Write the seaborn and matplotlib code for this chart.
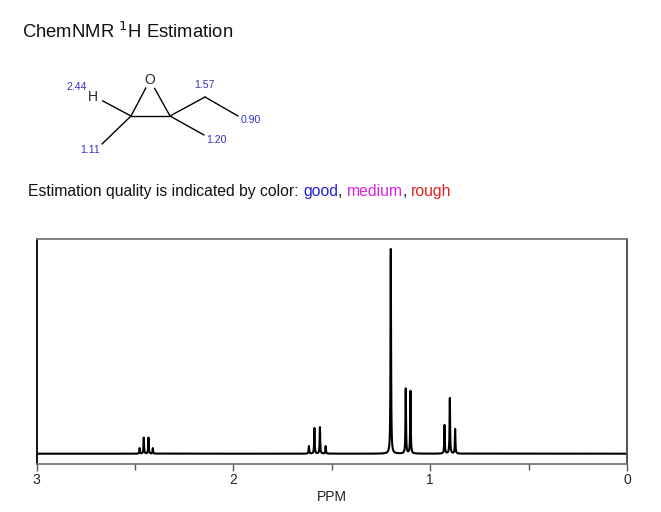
import numpy as np
import pandas as pd
import matplotlib
matplotlib.use("Agg")
import matplotlib.pyplot as plt
import seaborn as sns

sns.set_style("white")
plt.rcParams["font.family"] = ["Liberation Sans", "DejaVu Sans"]

# ---------------------------------------------------------
# DATA
# ---------------------------------------------------------
# estimated lines (ppm) and their drawn heights
peak_ppm = [2.476, 2.455, 2.431, 2.409,
            1.616, 1.588, 1.560, 1.531,
            1.200,
            1.124, 1.100,
            0.927, 0.900, 0.873]
peak_height = [5.5, 16.0, 16.0, 5.5,
               7.5, 25.5, 26.5, 7.5,
               204.5,
               65.0, 62.5,
               28.5, 55.5, 24.5]
line_hwhm = 0.0016

tick_major = [3, 2, 1, 0]
tick_minor = [2.5, 1.5, 0.5]

# structure drawing (figure pixels) and estimated shifts
atom_x = [131, 170, 150, 205, 238, 204, 102, 101]
atom_y = [116, 116, 80, 97, 116, 135, 144, 100]
bonds = [(0, 1), (0, 2), (1, 2), (1, 3), (3, 4), (1, 5), (0, 6), (0, 7)]
shift_text = ["2.44", "1.57", "0.90", "1.20", "1.11"]
shift_x = [77, 204, 251, 216, 90]
shift_y = [87, 85, 120, 140, 150]

# ---------------------------------------------------------
# SPECTRUM
# ---------------------------------------------------------
ppm = np.arange(0.0, 3.0005, 0.0005)
inten = np.zeros_like(ppm)
for c, h in zip(peak_ppm, peak_height):
    inten += h * line_hwhm ** 2 / ((ppm - c) ** 2 + line_hwhm ** 2)
spec = pd.DataFrame({"ppm": ppm, "intensity": inten})

W, H = 661, 512
fig = plt.figure(figsize=(W / 100, H / 100), dpi=100)

ax = fig.add_axes([36.5 / W, 1 - 463.5 / H, 590.5 / W, 225 / H])
sns.lineplot(data=spec, x="ppm", y="intensity", ax=ax, color="black",
             linewidth=1.5, estimator=None, sort=False)
ax.set_xlim(3, 0)
ax.set_ylim(-9.8, 215)
ax.set_yticks([])
ax.set_ylabel("")
ax.set_xticks(tick_major)
ax.set_xticks(tick_minor, minor=True)
ax.set_xticklabels([str(t) for t in tick_major])
ax.tick_params(axis="x", which="major", direction="out", length=5, width=1,
               color="#555555", labelsize=10, labelcolor="#222222", pad=2,
               bottom=True)
ax.tick_params(axis="x", which="minor", direction="out", length=4, width=1,
               color="#555555", bottom=True)
ax.set_xlabel("PPM", fontsize=10, color="#222222", labelpad=2)
ax.spines["left"].set_color("black")
ax.spines["left"].set_linewidth(1.3)
ax.spines["right"].set_color("#444444")
ax.spines["right"].set_linewidth(1.3)
ax.spines["top"].set_color("#777777")
ax.spines["top"].set_linewidth(1.3)
ax.spines["bottom"].set_color("#777777")
ax.spines["bottom"].set_linewidth(1.3)

# ---------------------------------------------------------
# HEADER + STRUCTURE
# ---------------------------------------------------------
top = fig.add_axes([0, 0, 1, 1], zorder=-1)
top.set_xlim(0, W)
top.set_ylim(H, 0)
top.axis("off")

top.text(22, 32, r"ChemNMR $^{1}$H Estimation", fontsize=13.3,
         va="center", ha="left", color="#111111")

for a, b in bonds:
    top.plot([atom_x[a], atom_x[b]], [atom_y[a], atom_y[b]],
             color="black", linewidth=1.0)
# gaps for the atom labels
top.scatter([atom_x[2], atom_x[7] - 7], [atom_y[2], atom_y[7] - 3],
            s=120, color="white", zorder=3)
top.text(atom_x[2], atom_y[2], "O", fontsize=10, ha="center", va="center",
         zorder=4)
top.text(atom_x[7] - 8, atom_y[7] - 3, "H", fontsize=10, ha="center",
         va="center", zorder=4)
for t, x, y in zip(shift_text, shift_x, shift_y):
    top.text(x, y, t, fontsize=7.6, color="#3333bb", ha="center", va="center")

y_q = 196
parts = [("Estimation quality is indicated by color: ", "#111111"),
         ("good", "#2222cc"), (", ", "#111111"),
         ("medium", "#dd22dd"), (", ", "#111111"),
         ("rough", "#dd2222")]
fig.canvas.draw()
renderer = fig.canvas.get_renderer()
x_cur = 28
for s, col in parts:
    txt = top.text(x_cur, y_q, s, fontsize=11.3, color=col, va="baseline",
                   ha="left")
    bb = txt.get_window_extent(renderer=renderer)
    x_cur += bb.width

fig.savefig("out.png", dpi=100)
